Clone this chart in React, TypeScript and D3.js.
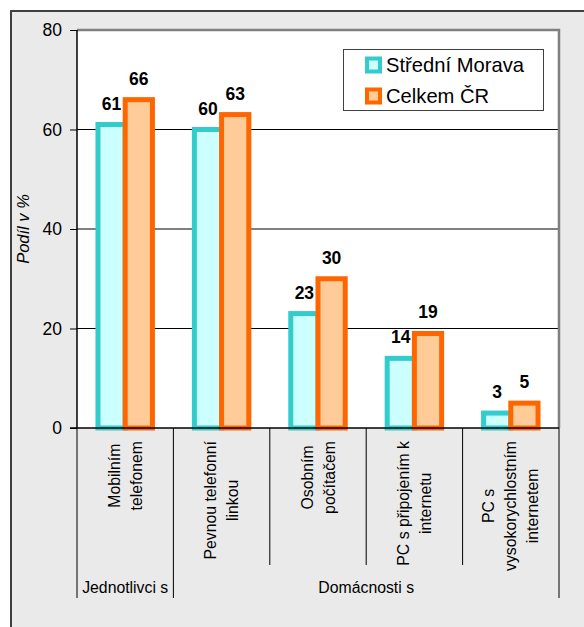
import { useEffect, useRef } from "react";
import * as d3 from "d3";

const categories = [
  "Mobilním\ntelefonem",
  "Pevnou telefonní\nlinkou",
  "Osobním\npočítačem",
  "PC s připojením k\ninternetu",
  "PC s\nvysokorychlostním\ninternetem",
];
const seriesNames = ["Střední Morava", "Celkem ČR"];
const stredniMorava = [61, 60, 23, 14, 3];
const celkemCR = [66, 63, 30, 19, 5];
const groupLabels = ["Jednotlivci s", "Domácnosti s"];
const groupSizes = [1, 4];
const yTicks = [0, 20, 40, 60, 80];

const strokes = ["#33cccc", "#ff6600"];
const fills = ["#ccffff", "#ffcc99"];
const font = "Arial, 'Liberation Sans', sans-serif";

export default function App() {
  const width = 584;
  const height = 627;
  const plotLeft = 77;
  const plotRight = 559;
  const plotTop = 30;
  const plotBottom = 428;
  const ref = useRef(null);

  useEffect(() => {
    document.body.style.margin = "0";
    ref.current.innerHTML = "";
    const svg = d3.select(ref.current);

    const xScale = d3
      .scaleBand()
      .domain(categories)
      .range([plotLeft, plotRight])
      .padding(0);

    const xSub = d3
      .scaleBand()
      .domain(seriesNames)
      .range([0, xScale.bandwidth()])
      .paddingInner(0)
      .paddingOuter(0.77);

    const yScale = d3
      .scaleLinear()
      .domain([0, 80])
      .range([plotBottom, plotTop]);

    // outer chart frame
    svg
      .append("rect")
      .attr("x", 11)
      .attr("y", 11)
      .attr("width", 620)
      .attr("height", 660)
      .attr("fill", "#eaeaea")
      .attr("stroke", "#404040")
      .attr("stroke-width", 2);

    // plot area
    svg
      .append("rect")
      .attr("x", plotLeft)
      .attr("y", plotTop)
      .attr("width", plotRight - plotLeft)
      .attr("height", plotBottom - plotTop)
      .attr("fill", "#fff");

    // gridlines
    svg
      .append("g")
      .selectAll("line")
      .data(yTicks.filter((t) => t > 0 && t < 80))
      .enter()
      .append("line")
      .attr("x1", plotLeft)
      .attr("x2", plotRight)
      .attr("y1", (d) => yScale(d))
      .attr("y2", (d) => yScale(d))
      .attr("stroke", "#000")
      .attr("stroke-width", 1);

    // top & right border of plot area
    svg
      .append("path")
      .attr("d", `M${plotLeft},${plotTop}H${plotRight}V${plotBottom}`)
      .attr("fill", "none")
      .attr("stroke", "#808080")
      .attr("stroke-width", 2.5);

    // bars
    const seriesValues = [stredniMorava, celkemCR];
    seriesValues.forEach((values, si) => {
      svg
        .append("g")
        .selectAll("rect")
        .data(values)
        .enter()
        .append("rect")
        .attr("x", (d, i) => xScale(categories[i]) + xSub(seriesNames[si]))
        .attr("y", (d) => yScale(d))
        .attr("width", xSub.bandwidth())
        .attr("height", (d) => yScale(0) - yScale(d))
        .attr("fill", fills[si])
        .attr("stroke", strokes[si])
        .attr("stroke-width", 5);
    });

    // value labels
    seriesValues.forEach((values, si) => {
      svg
        .append("g")
        .selectAll("text")
        .data(values)
        .enter()
        .append("text")
        .attr(
          "x",
          (d, i) =>
            xScale(categories[i]) + xSub(seriesNames[si]) + xSub.bandwidth() / 2,
        )
        .attr("y", (d) => yScale(d) - 15)
        .attr("text-anchor", "middle")
        .style("font-family", font)
        .style("font-size", "17.5px")
        .style("font-weight", "bold")
        .text((d) => d);
    });

    // y axis
    const yAxis = svg
      .append("g")
      .attr("transform", `translate(${plotLeft}, 0)`)
      .call(d3.axisLeft(yScale).tickValues(yTicks).tickSize(7).tickPadding(8))
      .call((g) => g.select(".domain").remove());
    yAxis.selectAll(".tick line").attr("stroke", "#000");
    yAxis
      .selectAll(".tick text")
      .attr("fill", "#000")
      .style("font-family", font)
      .style("font-size", "17.5px");

    svg
      .append("line")
      .attr("x1", plotLeft)
      .attr("x2", plotLeft)
      .attr("y1", plotTop)
      .attr("y2", plotBottom)
      .attr("stroke", "#000")
      .attr("stroke-width", 1.5);

    // x axis line
    svg
      .append("line")
      .attr("x1", plotLeft - 7)
      .attr("x2", plotRight)
      .attr("y1", plotBottom)
      .attr("y2", plotBottom)
      .attr("stroke", "#000")
      .attr("stroke-width", 1.5);

    // y title
    svg
      .append("text")
      .attr("transform", `translate(28.5, ${(plotTop + plotBottom) / 2}) rotate(-90)`)
      .attr("text-anchor", "middle")
      .style("font-family", font)
      .style("font-size", "16.5px")
      .style("font-style", "italic")
      .text("Podíl v %");

    // category dividers
    const groupEdges = [0];
    groupSizes.forEach((s) => groupEdges.push(groupEdges[groupEdges.length - 1] + s));
    const edges = categories.map((c) => xScale(c)).concat([plotRight]);
    svg
      .append("g")
      .selectAll("line")
      .data(edges)
      .enter()
      .append("line")
      .attr("x1", (d) => d)
      .attr("x2", (d) => d)
      .attr("y1", plotBottom)
      .attr("y2", (d, i) => (groupEdges.includes(i) ? 598 : 565))
      .attr("stroke", "#000")
      .attr("stroke-width", 1);

    // category labels (rotated, multi-line)
    const lineGap = 22;
    const capHeight = 11;
    categories.forEach((cat) => {
      const lines = cat.split("\n");
      const center = xScale(cat) + xScale.bandwidth() / 2;
      const firstBase = center - ((lines.length - 1) * lineGap - capHeight) / 2;
      const texts = lines.map((ln) =>
        svg
          .append("text")
          .attr("text-anchor", "middle")
          .style("font-family", font)
          .style("font-size", "15.8px")
          .text(ln),
      );
      const maxLen = d3.max(texts, (t) => t.node().getComputedTextLength());
      const cy = 441 + maxLen / 2;
      texts.forEach((t, i) =>
        t.attr(
          "transform",
          `translate(${firstBase + i * lineGap}, ${cy}) rotate(-90)`,
        ),
      );
    });

    // group labels
    groupLabels.forEach((label, gi) => {
      const x0 = edges[groupEdges[gi]];
      const x1 = edges[groupEdges[gi + 1]];
      svg
        .append("text")
        .attr("x", (x0 + x1) / 2)
        .attr("y", 592.5)
        .attr("text-anchor", "middle")
        .style("font-family", font)
        .style("font-size", "15.8px")
        .text(label);
    });

    // legend
    const legend = svg.append("g");
    legend
      .append("rect")
      .attr("x", 343.5)
      .attr("y", 49.5)
      .attr("width", 200)
      .attr("height", 61)
      .attr("fill", "#fff")
      .attr("stroke", "#404040")
      .attr("stroke-width", 1);
    seriesNames.forEach((name, si) => {
      const top = 56.5 + si * 31;
      legend
        .append("rect")
        .attr("x", 367)
        .attr("y", top + 2)
        .attr("width", 13)
        .attr("height", 13)
        .attr("fill", fills[si])
        .attr("stroke", strokes[si])
        .attr("stroke-width", 4);
      legend
        .append("text")
        .attr("x", 386)
        .attr("y", top + 15)
        .style("font-family", font)
        .style("font-size", "20.2px")
        .text(name);
    });
  }, []);

  return <svg ref={ref} width={width} height={height} style={{ display: "block" }} />;
}
